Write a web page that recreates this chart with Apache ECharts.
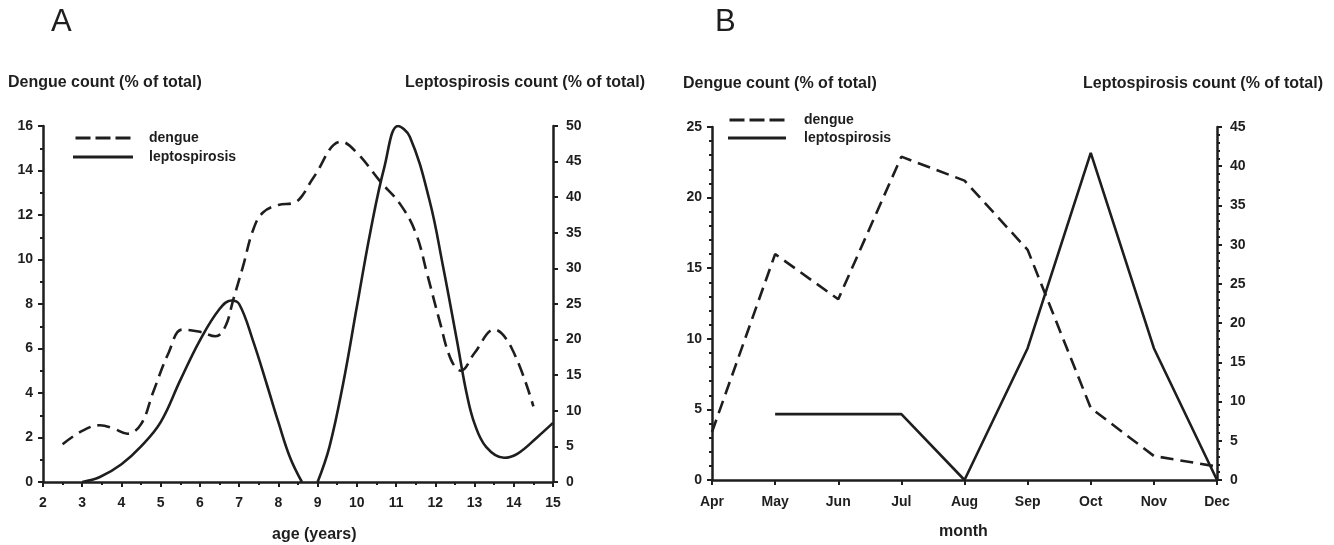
<!DOCTYPE html>
<html>
<head>
<meta charset="utf-8">
<script src="https://cdn.jsdelivr.net/npm/echarts@6/dist/echarts.min.js"></script>
<style>
html,body{margin:0;padding:0;background:#fff;}
#chart{width:1334px;height:545px;}
</style>
</head>
<body>
<div id="chart"></div>
<script>
// Panel A: by age (years)
var ageDengue = [[2.5,1.7],[3.0,2.3],[3.45,2.55],[3.8,2.4],[4.15,2.17],[4.5,2.6],[4.8,4.0],[5.2,5.8],[5.55,6.85],[6.0,6.75],[6.4,6.55],[6.65,7.0],[6.85,8.2],[7.1,9.7],[7.35,11.3],[7.6,12.1],[8.0,12.45],[8.4,12.55],[8.6,12.85],[8.9,13.7],[9.6,15.3],[10.0,14.8],[10.6,13.5],[11.1,12.5],[11.5,11.2],[11.8,9.3],[12.1,7.3],[12.4,5.5],[12.65,5.0],[13.0,5.8],[13.5,6.85],[13.95,6.0],[14.5,3.4]];
var ageLepto = [[3.0,0],[3.45,0.7],[4.0,2.5],[4.5,5.0],[5.0,8.4],[5.5,14.3],[6.0,19.9],[6.5,24.3],[6.8,25.5],[7.0,25.0],[7.35,19.9],[7.7,13.8],[8.0,8.4],[8.3,3.4],[8.6,0],[8.8,'-'],[9.0,0],[9.3,4.9],[9.65,13.8],[10.0,24.6],[10.35,35.3],[10.7,44.2],[11.05,50],[11.35,48.5],[11.85,39.6],[12.2,30.2],[12.55,19.9],[12.8,12.4],[13.0,8.2],[13.3,4.9],[13.75,3.4],[14.1,4.0],[14.6,6.3],[15.0,8.3]];

// Panel B: by month
var months = ['Apr','May','Jun','Jul','Aug','Sep','Oct','Nov','Dec'];
var monthDengue = [3.4,16.0,12.8,22.9,21.2,16.3,5.1,1.7,0.95];
var monthLepto = [null,8.4,8.4,8.4,0,16.8,41.7,16.8,0];

var FONT = '"Liberation Sans", Arial, sans-serif';
var INK = '#1e1e1e';
var DASH_ICON = 'path://M0,0h15v3h-15z M20,0h15v3h-15z M40,0h15v3h-15z';
var SOLID_ICON = 'path://M0,0h60v3h-60z';
var axisLine = {show:true, lineStyle:{color:INK, width:2.5}};
var axisTick = {show:true, length:5, lineStyle:{color:INK, width:2}};
var minorTick = function(n){return {show:true, splitNumber:n, length:3, lineStyle:{color:INK, width:2}};};
var lbl = function(m){return {color:INK, fontFamily:FONT, fontWeight:'bold', fontSize:14, margin:m};};
var lineStyleDash = {color:INK, width:2.6, type:[13,7]};
var lineStyleSolid = {color:INK, width:2.6, type:'solid'};
var legendText = function(p){return {color:INK, fontFamily:FONT, fontWeight:'bold', fontSize:14, padding:[2,0,0,p]};};

var chart = echarts.init(document.getElementById('chart'), null, {renderer:'canvas'});
chart.setOption({
  backgroundColor:'#fff',
  animation:false,
  grid:[
    {left:43, top:126, width:510, height:356},
    {left:712, top:127, width:505, height:353}
  ],
  legend:[
    {left:73, top:131, orient:'vertical', itemWidth:62, itemHeight:3, itemGap:5, padding:0,
     data:[{name:'dengue', icon:DASH_ICON},{name:'leptospirosis', icon:SOLID_ICON}],
     textStyle:legendText(10)},
    {left:728, top:113, orient:'vertical', itemWidth:58, itemHeight:3, itemGap:4, padding:0,
     data:[{name:'dengue', icon:DASH_ICON},{name:'leptospirosis', icon:SOLID_ICON}],
     textStyle:legendText(13)}
  ],
  xAxis:[
    {gridIndex:0, type:'value', min:2, max:15, interval:1,
     axisLine:axisLine, axisTick:axisTick, minorTick:minorTick(2),
     axisLabel:lbl(14), splitLine:{show:false}},
    {gridIndex:1, type:'category', data:months, boundaryGap:false,
     axisLine:axisLine, axisTick:Object.assign({alignWithLabel:true}, axisTick),
     axisLabel:lbl(15), splitLine:{show:false}}
  ],
  yAxis:[
    {gridIndex:0, type:'value', position:'left', min:0, max:16, interval:2,
     axisLine:axisLine, axisTick:axisTick, minorTick:minorTick(2),
     axisLabel:lbl(10), splitLine:{show:false}},
    {gridIndex:0, type:'value', position:'right', min:0, max:50, interval:5,
     axisLine:axisLine, axisTick:axisTick,
     axisLabel:lbl(13), splitLine:{show:false}},
    {gridIndex:1, type:'value', position:'left', min:0, max:25, interval:5,
     axisLine:axisLine, axisTick:axisTick, minorTick:minorTick(5),
     axisLabel:lbl(10), splitLine:{show:false}},
    {gridIndex:1, type:'value', position:'right', min:0, max:45, interval:5,
     axisLine:axisLine, axisTick:axisTick, minorTick:minorTick(5),
     axisLabel:lbl(13), splitLine:{show:false}}
  ],
  series:[
    {name:'dengue', type:'line', xAxisIndex:0, yAxisIndex:0, data:ageDengue,
     smooth:0.4, showSymbol:false, symbol:'none', lineStyle:lineStyleDash, itemStyle:{color:INK}},
    {name:'leptospirosis', type:'line', xAxisIndex:0, yAxisIndex:1, data:ageLepto,
     smooth:0.4, connectNulls:false, showSymbol:false, symbol:'none', lineStyle:lineStyleSolid, itemStyle:{color:INK}},
    {name:'dengue', type:'line', xAxisIndex:1, yAxisIndex:2, data:monthDengue,
     showSymbol:false, symbol:'none', lineStyle:lineStyleDash, itemStyle:{color:INK}},
    {name:'leptospirosis', type:'line', xAxisIndex:1, yAxisIndex:3, data:monthLepto,
     connectNulls:false, showSymbol:false, symbol:'none', lineStyle:lineStyleSolid, itemStyle:{color:INK}}
  ],
  graphic:[
    {type:'text', left:51, top:7, style:{text:'A', fill:INK, font:'normal 31px '+FONT}},
    {type:'text', left:715, top:7, style:{text:'B', fill:INK, font:'normal 31px '+FONT}},
    {type:'text', left:8, top:75, style:{text:'Dengue count (% of total)', fill:INK, font:'bold 16px '+FONT}},
    {type:'text', right:1334-645, top:75, style:{text:'Leptospirosis count (% of total)', fill:INK, font:'bold 16px '+FONT}},
    {type:'text', left:683, top:76, style:{text:'Dengue count (% of total)', fill:INK, font:'bold 16px '+FONT}},
    {type:'text', right:1334-1323, top:76, style:{text:'Leptospirosis count (% of total)', fill:INK, font:'bold 16px '+FONT}},
    {type:'text', left:272, top:527, style:{text:'age (years)', fill:INK, font:'bold 16px '+FONT}},
    {type:'text', left:939, top:524, style:{text:'month', fill:INK, font:'bold 16px '+FONT}}
  ]
});
</script>
</body>
</html>
